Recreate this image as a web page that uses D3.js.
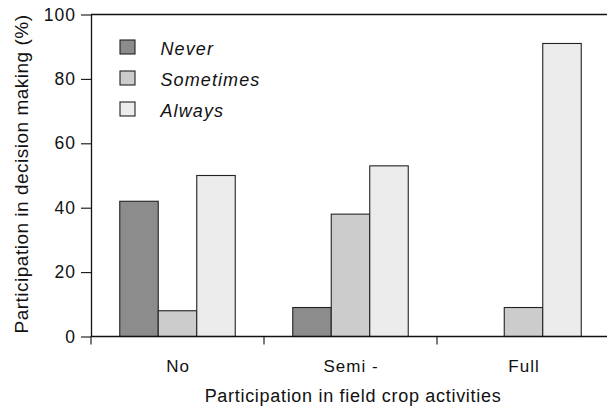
<!DOCTYPE html>
<html>
<head>
<meta charset="utf-8">
<script src="https://cdn.jsdelivr.net/npm/d3@7"></script>
<style>
  html, body { margin: 0; padding: 0; background: #fff; }
  svg { display: block; }
  text { font-family: "Liberation Sans", Arial, Helvetica, sans-serif; fill: #111; }
</style>
</head>
<body>
<svg id="chart" width="607" height="407"></svg>
<script>
const categories = ["No", "Semi -", "Full"];
const seriesNames = ["Never", "Sometimes", "Always"];
const never = [42, 9, 0];
const sometimes = [8, 38, 9];
const always = [50, 53, 91];
const yTicks = [0, 20, 40, 60, 80, 100];
const colors = ["#8c8c8c", "#cccccc", "#ececec"];

const seriesValues = [never, sometimes, always];
const W = 607, H = 407;
const mLeft = 91, mRight = 610, mTop = 14.5, mBottom = 336.5;

const svg = d3.select("#chart");

const x0 = d3.scaleBand().domain(categories).range([mLeft, mRight]).padding(0);
const x1 = d3.scaleBand().domain(seriesNames).range([0, x0.bandwidth()]).paddingInner(0).paddingOuter(0.747);
const y = d3.scaleLinear().domain([0, 100]).range([mBottom, mTop]);
const color = d3.scaleOrdinal().domain(seriesNames).range(colors);

// Bars
const rows = [];
categories.forEach((c, i) => {
  seriesNames.forEach((s, j) => {
    rows.push({ cat: c, series: s, value: seriesValues[j][i] });
  });
});
svg.append("g").selectAll("rect")
  .data(rows.filter(d => d.value > 0))
  .join("rect")
  .attr("x", d => x0(d.cat) + x1(d.series))
  .attr("y", d => y(d.value))
  .attr("width", x1.bandwidth())
  .attr("height", d => y(0) - y(d.value))
  .attr("fill", d => color(d.series))
  .attr("stroke", "#222")
  .attr("stroke-width", 1.1);

// Top frame line
svg.append("line")
  .attr("x1", mLeft).attr("x2", W)
  .attr("y1", y(100)).attr("y2", y(100))
  .attr("stroke", "#111").attr("stroke-width", 1.3);

// Y axis
const yAxis = d3.axisLeft(y).tickValues(yTicks).tickSizeInner(10).tickSizeOuter(0).tickPadding(5);
const gy = svg.append("g").attr("transform", `translate(${mLeft},0)`).call(yAxis);
gy.select(".domain").attr("stroke", "#111").attr("stroke-width", 1.3);
gy.selectAll(".tick line").attr("stroke", "#111").attr("stroke-width", 1.1);
gy.selectAll(".tick text")
  .style("font-size", "17.5px")
  .style("letter-spacing", "1px")
  .style("font-family", "'Liberation Sans', Arial, sans-serif")
  .attr("fill", "#111");

// X axis baseline
svg.append("line")
  .attr("x1", mLeft).attr("x2", W)
  .attr("y1", y(0)).attr("y2", y(0))
  .attr("stroke", "#111").attr("stroke-width", 1.3);

// X ticks at band boundaries
const boundaries = categories.map(c => x0(c));
svg.append("g").selectAll("line")
  .data(boundaries)
  .join("line")
  .attr("x1", d => d).attr("x2", d => d)
  .attr("y1", y(0)).attr("y2", y(0) + 8)
  .attr("stroke", "#111").attr("stroke-width", 1.1);

// Category labels
svg.append("g").selectAll("text")
  .data(categories)
  .join("text")
  .attr("x", d => x0(d) + x0.bandwidth() / 2 + 0.5)
  .attr("y", 371.5)
  .attr("text-anchor", "middle")
  .style("font-size", "17px")
  .style("letter-spacing", "1px")
  .text(d => d);

// Axis titles
svg.append("text")
  .attr("x", 353)
  .attr("y", 402)
  .attr("text-anchor", "middle")
  .style("font-size", "18px")
  .style("letter-spacing", "0.7px")
  .text("Participation in field crop activities");

svg.append("text")
  .attr("transform", `translate(28,174) rotate(-90)`)
  .attr("text-anchor", "middle")
  .style("font-size", "19px")
  .style("letter-spacing", "0.5px")
  .text("Participation in decision making (%)");

// Legend
const legend = svg.append("g").selectAll("g")
  .data(seriesNames)
  .join("g")
  .attr("transform", (d, i) => `translate(120,${40 + i * 31})`);
legend.append("rect")
  .attr("width", 15).attr("height", 14)
  .attr("fill", d => color(d))
  .attr("stroke", "#222").attr("stroke-width", 1.1);
legend.append("text")
  .attr("x", 40.5).attr("y", 14.5)
  .style("font-size", "18px")
  .style("letter-spacing", "1.1px")
  .style("font-style", "italic")
  .text(d => d);
</script>
</body>
</html>
